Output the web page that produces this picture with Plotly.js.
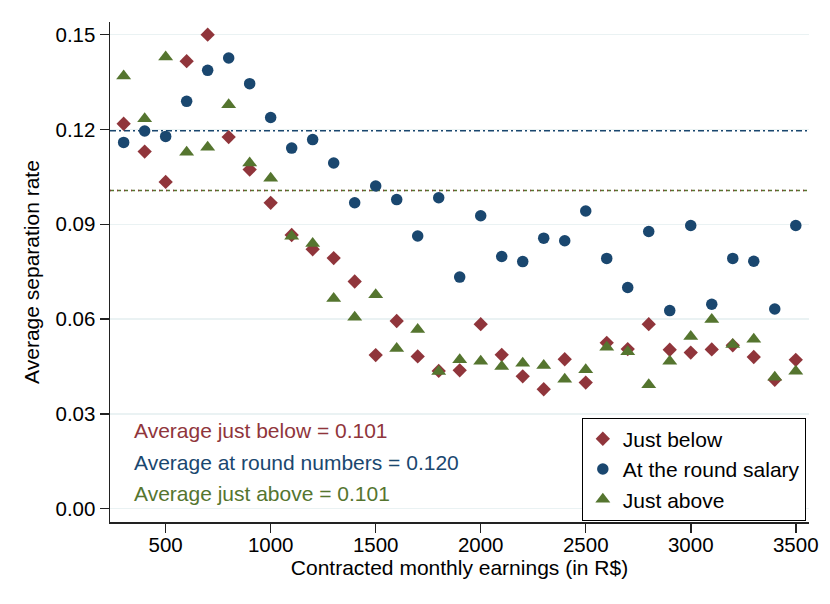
<!DOCTYPE html>
<html>
<head>
<meta charset="utf-8">
<script src="https://cdn.plot.ly/plotly-3.0.1.min.js"></script>
<style>
  body { margin: 0; background: #fff; }
  #chart { width: 830px; height: 604px; }
</style>
</head>
<body>
<div id="chart"></div>
<script>
// monthly earnings buckets (R$)
var earnings = [300, 400, 500, 600, 700, 800, 900, 1000, 1100, 1200, 1300, 1400, 1500, 1600, 1700,
    1800, 1900, 2000, 2100, 2200, 2300, 2400, 2500, 2600, 2700, 2800, 2900, 3000, 3100, 3200, 3300, 3400, 3500];

var justBelow = [0.1218, 0.1130, 0.1034, 0.1416, 0.1500, 0.1176, 0.1073, 0.0968, 0.0866, 0.0821, 0.0793,
    0.0719, 0.0486, 0.0594, 0.0482, 0.0436, 0.0438, 0.0584, 0.0487, 0.0419, 0.0378, 0.0473, 0.0399,
    0.0525, 0.0505, 0.0584, 0.0503, 0.0494, 0.0504, 0.0517, 0.0480, 0.0408, 0.0471];

var atRound = [0.1159, 0.1195, 0.1178, 0.1289, 0.1387, 0.1426, 0.1345, 0.1238, 0.1141, 0.1168, 0.1094,
    0.0968, 0.1021, 0.0978, 0.0863, 0.0984, 0.0733, 0.0927, 0.0798, 0.0782, 0.0856, 0.0848, 0.0942,
    0.0792, 0.0700, 0.0877, 0.0627, 0.0896, 0.0647, 0.0792, 0.0783, 0.0632, 0.0896];

var justAbove = [0.1369, 0.1234, 0.1429, 0.1128, 0.1144, 0.1278, 0.1094, 0.1046, 0.0862, 0.0839, 0.0665,
    0.0606, 0.0677, 0.0507, 0.0567, 0.0434, 0.0471, 0.0467, 0.0450, 0.0460, 0.0453, 0.0410, 0.0440,
    0.0511, 0.0497, 0.0392, 0.0467, 0.0545, 0.0599, 0.0520, 0.0536, 0.0416, 0.0435];

// averages drawn as horizontal lines
var avgBelow = 0.1007;
var avgRound = 0.1196;
var avgAbove = 0.1007;

var xTicks = [500, 1000, 1500, 2000, 2500, 3000, 3500];
var yTicks = [0.00, 0.03, 0.06, 0.09, 0.12, 0.15];

var maroon = '#90353b', navy = '#1a476f', green = '#55752f';
var font = '"Liberation Sans", Arial, sans-serif';

var traceBelow = {
    x: earnings, y: justBelow, type: 'scatter', mode: 'markers', name: 'Just below',
    marker: {symbol: 'diamond', size: 11, color: maroon, line: {width: 0}}
};
var traceRound = {
    x: earnings, y: atRound, type: 'scatter', mode: 'markers', name: 'At the round salary',
    marker: {symbol: 'circle', size: 11.5, color: navy, line: {width: 0}}
};
var traceAbove = {
    x: earnings, y: justAbove, type: 'scatter', mode: 'markers', name: 'Just above',
    marker: {symbol: 'triangle-up', size: 13, color: green, line: {width: 0}}
};

function hline(y, color, dash)
{
    return {type: 'line', xref: 'paper', x0: 0, x1: 1, yref: 'y', y0: y, y1: y,
        line: {color: color, width: 1.5, dash: dash}, layer: 'below'};
}

function note(y, txt, color)
{
    return {xref: 'paper', yref: 'paper', x: 0.0315, y: y, xanchor: 'left', yanchor: 'middle',
        text: txt, showarrow: false, font: {family: font, size: 21, color: color}};
}

var layout =
{
    width: 830,
    height: 604,
    paper_bgcolor: '#fff',
    plot_bgcolor: '#fff',
    font: {family: font, size: 21, color: '#000'},
    margin: {l: 110, r: 21, t: 22, b: 82},
    showlegend: true,
    legend: {
        x: 0.675, y: 0.2088, xanchor: 'left', yanchor: 'top',
        bordercolor: '#000', borderwidth: 1, bgcolor: '#fff',
        font: {family: font, size: 21, color: '#000'}
    },
    xaxis: {
        range: [235, 3563],
        tickvals: xTicks,
        ticks: 'outside', ticklen: 9, tickwidth: 1.5, tickcolor: '#222',
        showline: true, linecolor: '#222', linewidth: 1.5,
        showgrid: false, zeroline: false,
        ticklabelstandoff: -5,
        tickfont: {size: 20.5},
        title: {text: 'Contracted monthly earnings (in R$)', font: {size: 21}, standoff: 1}
    },
    yaxis: {
        range: [-0.0042, 0.154],
        tickvals: yTicks,
        tickformat: '.2f',
        ticks: 'outside', ticklen: 9, tickwidth: 1.5, tickcolor: '#222',
        showline: true, linecolor: '#222', linewidth: 1.5,
        showgrid: true, gridcolor: '#eaf2f3', gridwidth: 1.5, zeroline: false,
        tickfont: {size: 20.5},
        title: {text: 'Average separation rate', font: {size: 21}, standoff: 10}
    },
    shapes: [
        hline(avgRound, navy, '6px,3px,2px,3px'),
        hline(avgAbove, green, '4px,3px'),
        hline(avgBelow, maroon, '1px,6px')
    ],
    annotations: [
        note(0.1834, 'Average just below = ' + avgBelow.toFixed(3), maroon),
        note(0.12, 'Average at round numbers = ' + avgRound.toFixed(3), navy),
        note(0.0568, 'Average just above = ' + avgAbove.toFixed(3), green)
    ]
};

Plotly.newPlot('chart', [traceBelow, traceRound, traceAbove], layout, {displayModeBar: false, staticPlot: true});
</script>
</body>
</html>
